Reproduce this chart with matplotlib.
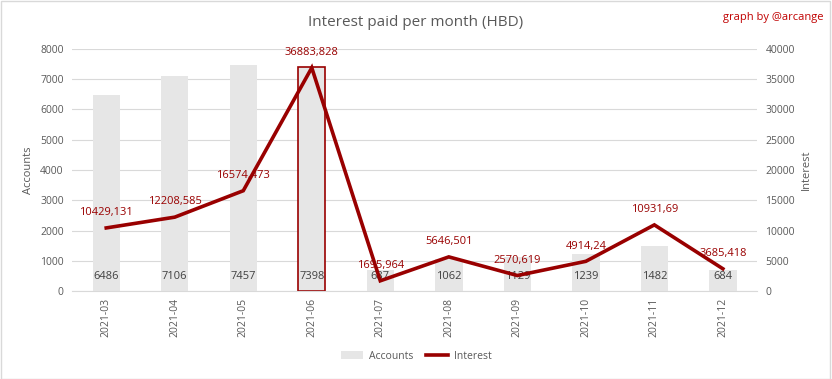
import matplotlib
matplotlib.use("Agg")
import matplotlib.pyplot as plt
from matplotlib.patches import Patch
from matplotlib.lines import Line2D

months = ["2021-03", "2021-04", "2021-05", "2021-06", "2021-07", "2021-08",
          "2021-09", "2021-10", "2021-11", "2021-12"]
accounts = [6486, 7106, 7457, 7398, 687, 1062, 1129, 1239, 1482, 684]
interest = [10429.131, 12208.585, 16574.473, 36883.828, 1695.964, 5646.501,
            2570.619, 4914.24, 10931.69, 3685.418]
interest_labels = ["10429,131", "12208,585", "16574,473", "36883,828", "1695,964",
                   "5646,501", "2570,619", "4914,24", "10931,69", "3685,418"]
highlight = "2021-06"

plt.rcParams['font.family'] = ['Open Sans', 'DejaVu Sans']
DARK = "#990000"
GRAY_T = "#595959"

fig = plt.figure(figsize=(8.32, 3.79), dpi=100)
fig.patches.append(plt.Rectangle((0.001, 0.001), 0.997, 0.997, transform=fig.transFigure,
                                 fill=False, edgecolor="#d9d9d9", lw=1))
ax = fig.add_axes([0.0865, 0.232, 0.8235, 0.639])
ax2 = ax.twinx()

x = list(range(len(months)))
bars = ax.bar(x, accounts, width=0.4, color="#e6e6e6", zorder=2)
for i, m in enumerate(months):
    if m == highlight:
        bars[i].set_edgecolor(DARK)
        bars[i].set_linewidth(1.2)
for i, v in enumerate(accounts):
    ax.annotate(str(v), (i, 0), xytext=(0, 10.5), textcoords="offset points",
                ha="center", va="center", fontsize=8, color="#404040", zorder=3)

ax.set_ylim(0, 8000)
ax.set_yticks(range(0, 8001, 1000))
ax.set_xlim(-0.5, len(months) - 0.5)
ax.set_xticks(x)
ax.set_xticklabels(months, rotation=90, fontsize=7.5, color=GRAY_T)
ax.tick_params(axis="y", labelsize=7.5, colors=GRAY_T, length=0, pad=6)
ax.tick_params(axis="x", length=0, pad=5)
ax.grid(axis="y", color="#d9d9d9", lw=0.8, zorder=0)
ax.set_axisbelow(True)
for s in ax.spines.values():
    s.set_visible(False)
ax.spines["bottom"].set_visible(True)
ax.spines["bottom"].set_color("#d9d9d9")
ax.set_ylabel("Accounts", fontsize=8, color=GRAY_T, labelpad=4)

ax2.plot(x, interest, color=DARK, lw=2.6, solid_joinstyle="miter")
ax2.set_ylim(0, 40000)
ax2.set_yticks(range(0, 40001, 5000))
ax2.tick_params(axis="y", labelsize=7.5, colors=GRAY_T, length=0, pad=6)
for s in ax2.spines.values():
    s.set_visible(False)
ax2.set_ylabel("Interest", fontsize=8, color=GRAY_T, labelpad=4)
for i, (v, lab) in enumerate(zip(interest, interest_labels)):
    ax2.annotate(lab, (i, v), xytext=(0, 11), textcoords="offset points",
                 ha="center", va="center", fontsize=8, color=DARK)

fig.text(0.5, 0.94, "Interest paid per month (HBD)", ha="center", va="center",
         fontsize=11, color=GRAY_T)
fig.text(0.99, 0.955, "graph by @arcange", ha="right", va="center",
         fontsize=8, color="#c00000")

handles = [Patch(facecolor="#e6e6e6", label="Accounts"),
           Line2D([0], [0], color=DARK, lw=2.6, label="Interest")]
fig.legend(handles=handles, loc="center", bbox_to_anchor=(0.5, 0.06), ncol=2,
           frameon=False, fontsize=7.5, labelcolor=GRAY_T, handlelength=2.2,
           columnspacing=1.2, handletextpad=0.5)

fig.savefig("out.png", dpi=100)
